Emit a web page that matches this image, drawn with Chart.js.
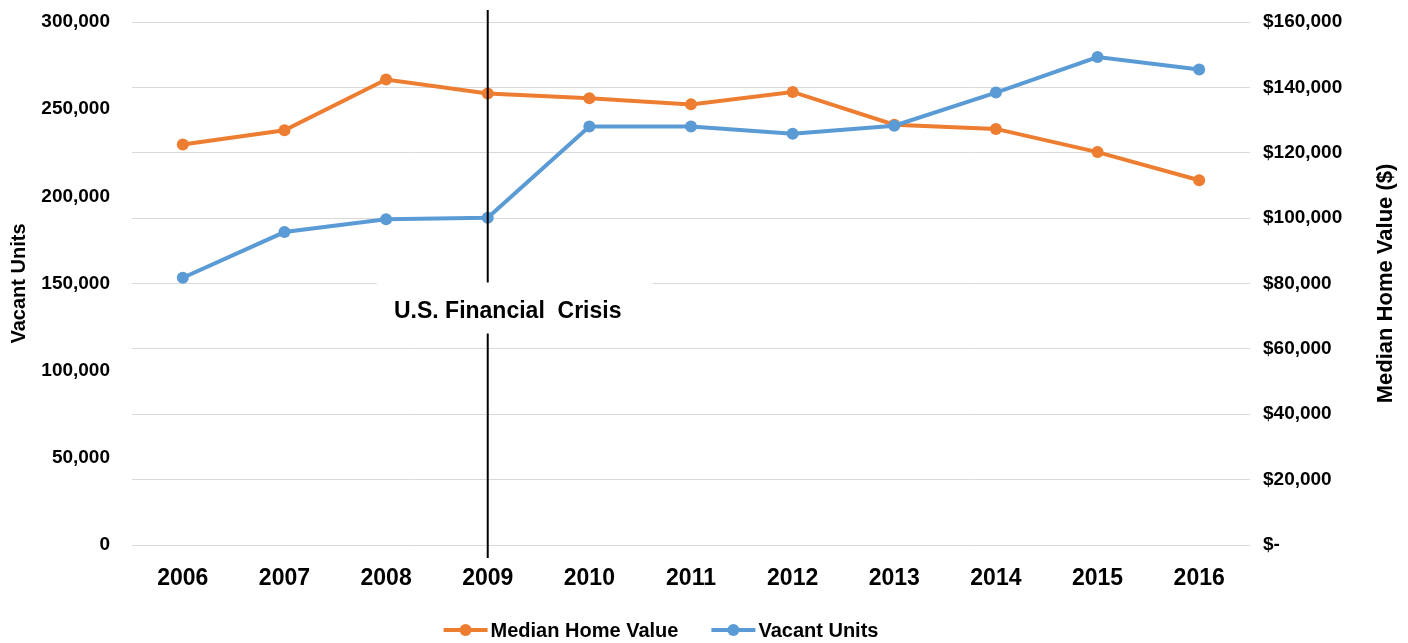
<!DOCTYPE html>
<html>
<head>
<meta charset="utf-8">
<title>Vacant Units and Median Home Value, 2006-2016</title>
<script src="https://cdn.jsdelivr.net/npm/chart.js@4.4.1/dist/chart.umd.min.js"></script>
<style>
    html, body { margin: 0; padding: 0; background: #fff; }
    canvas { display: block; }
</style>
</head>
<body>
<canvas id="housingChart" width="1408" height="643"></canvas>
<script>
'use strict';

// Dados
const years = ['2006', '2007', '2008', '2009', '2010', '2011', '2012', '2013', '2014', '2015', '2016'];
const vacantUnits = [153300, 179500, 186800, 187700, 240100, 240100, 235900, 240500, 259500, 279900, 272700];
const medianHomeValue = [122500, 126900, 142400, 138100, 136700, 134800, 138600, 128600, 127300, 120200, 111600];

// Eixos
const vacantMax = 300000;
const vacantStep = 50000;
const valueMax = 160000;
const valueStep = 20000;

// Marcação da crise
const crisisYear = '2009';
const crisisLabel = 'U.S. Financial  Crisis';

const ORANGE = '#ED7D31';
const BLUE = '#5B9BD5';
const FONT = "'Liberation Sans', Arial, sans-serif";

const legendItems = [
    { text: 'Median Home Value', color: ORANGE },
    { text: 'Vacant Units', color: BLUE },
];

// o padding dos ticks não deve empurrar a área do gráfico para baixo
function fixAxis(width) {
    return function (scale) {
        scale.width = width;
        scale.paddingTop = 0;
        scale.paddingBottom = 0;
    };
}

/* Linha vertical e caixa de texto da crise */
const crisisMarker = {
    id: 'crisisMarker',
    afterDatasetsDraw(chart) {
        const ctx = chart.ctx;
        const x = chart.scales.x.getPixelForValue(years.indexOf(crisisYear));
        const area = chart.chartArea;
        const boxTop = chart.scales.y1.getPixelForValue(80000);

        ctx.save();
        ctx.strokeStyle = '#000';
        ctx.lineWidth = 2;
        ctx.beginPath();
        ctx.moveTo(x, area.top - 12);
        ctx.lineTo(x, area.bottom + 13);
        ctx.stroke();

        // caixa branca por cima das linhas de grade
        ctx.fillStyle = '#fff';
        ctx.fillRect(x - 111, boxTop - 1, 276, 51);

        ctx.fillStyle = '#000';
        ctx.font = 'bold 23px ' + FONT;
        ctx.textAlign = 'center';
        ctx.textBaseline = 'middle';
        ctx.fillText(crisisLabel, x + 20, boxTop + 28);
        ctx.restore();
    },
};

/* Título do eixo direito (lido de baixo para cima) e legenda */
const extras = {
    id: 'extras',
    afterDraw(chart) {
        const ctx = chart.ctx;
        const area = chart.chartArea;
        ctx.save();
        ctx.fillStyle = '#000';
        ctx.font = 'bold 22px ' + FONT;
        ctx.textAlign = 'center';
        ctx.textBaseline = 'middle';
        ctx.translate(1386, (area.top + area.bottom) / 2);
        ctx.rotate(-Math.PI / 2);
        ctx.fillText('Median Home Value ($)', 0, 0);
        ctx.restore();

        // legenda
        ctx.save();
        ctx.font = 'bold 20px ' + FONT;
        ctx.textBaseline = 'middle';
        const markW = 44;
        const gapText = 3;
        const gapItem = 33;
        const widths = legendItems.map((it) => markW + gapText + ctx.measureText(it.text).width);
        const total = widths.reduce((a, b) => a + b, 0) + gapItem * (legendItems.length - 1);
        let x = 661 - total / 2;
        const y = 630;
        legendItems.forEach((it, i) => {
            ctx.strokeStyle = it.color;
            ctx.fillStyle = it.color;
            ctx.lineWidth = 4;
            ctx.beginPath();
            ctx.moveTo(x, y);
            ctx.lineTo(x + markW, y);
            ctx.stroke();
            ctx.beginPath();
            ctx.arc(x + markW / 2, y, 6, 0, Math.PI * 2);
            ctx.fill();
            ctx.fillStyle = '#000';
            ctx.fillText(it.text, x + markW + gapText, y + 1);
            x += widths[i] + gapItem;
        });
        ctx.restore();
    },
};

const ctx = document.getElementById('housingChart').getContext('2d');
const housingChart = new Chart(ctx, {
    type: 'line',
    data: {
        labels: years,
        datasets: [
            {
                label: 'Vacant Units',
                data: vacantUnits,
                yAxisID: 'y',
                borderColor: BLUE,
                backgroundColor: BLUE,
                borderWidth: 4,
                pointRadius: 6,
                pointBorderWidth: 0,
                pointBackgroundColor: BLUE,
                tension: 0,
            },
            {
                label: 'Median Home Value',
                data: medianHomeValue,
                yAxisID: 'y1',
                borderColor: ORANGE,
                backgroundColor: ORANGE,
                borderWidth: 4,
                pointRadius: 6,
                pointBorderWidth: 0,
                pointBackgroundColor: ORANGE,
                tension: 0,
            },
        ],
    },
    options: {
        responsive: false,
        animation: false,
        layout: {
            padding: { top: 22, right: 0, bottom: 48, left: 0 },
        },
        plugins: {
            legend: { display: false },
            tooltip: { enabled: false },
        },
        scales: {
            x: {
                offset: true,
                grid: { display: false, drawTicks: false },
                border: { display: false },
                ticks: {
                    color: '#000',
                    padding: 20,
                    maxRotation: 0,
                    font: { family: FONT, size: 23, weight: 'bold' },
                },
                afterFit: function (scale) {
                    scale.height = 50;
                },
            },
            y: {
                position: 'left',
                min: 0,
                max: vacantMax,
                grid: { display: false, drawTicks: false },
                border: { display: false },
                ticks: {
                    stepSize: vacantStep,
                    color: '#000',
                    padding: 22,
                    font: { family: FONT, size: 19, weight: 'bold' },
                    callback: (v) => v.toLocaleString('en-US'),
                },
                title: {
                    display: true,
                    text: 'Vacant Units',
                    color: '#000',
                    padding: { top: 7, bottom: 0 },
                    font: { family: FONT, size: 20, weight: 'bold' },
                },
                afterFit: fixAxis(132),
            },
            y1: {
                position: 'right',
                min: 0,
                max: valueMax,
                grid: { color: '#d9d9d9', lineWidth: 1, drawTicks: false },
                border: { display: false },
                ticks: {
                    stepSize: valueStep,
                    color: '#000',
                    padding: 13,
                    font: { family: FONT, size: 19, weight: 'bold' },
                    callback: (v) => (v === 0 ? '$-' : '$' + v.toLocaleString('en-US')),
                },
                afterFit: fixAxis(158),
            },
        },
    },
    plugins: [crisisMarker, extras],
});
</script>
</body>
</html>
